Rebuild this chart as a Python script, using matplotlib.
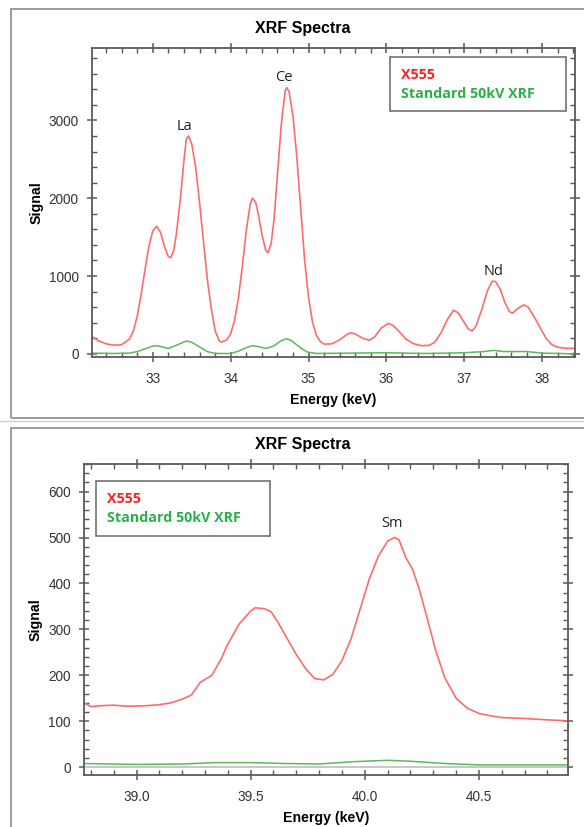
import matplotlib
matplotlib.use("Agg")
import matplotlib.pyplot as plt
from matplotlib.lines import Line2D
from matplotlib.patches import Rectangle
from matplotlib.ticker import MultipleLocator, FixedLocator, FormatStrFormatter

# upper panel: 32-38.5 keV
top_e = [32.22, 32.30, 32.40, 32.50, 32.60, 32.70, 32.75, 32.80, 32.85, 32.90, 32.95,
         33.00, 33.05, 33.10, 33.15, 33.20, 33.23, 33.27, 33.30, 33.35, 33.40, 33.43,
         33.46, 33.50, 33.55, 33.60, 33.65, 33.70, 33.75, 33.80, 33.85, 33.88, 33.95,
         34.00, 34.05, 34.10, 34.15, 34.20, 34.25, 34.28, 34.32, 34.36, 34.40, 34.45,
         34.48, 34.52, 34.56, 34.60, 34.65, 34.70, 34.72, 34.75, 34.80, 34.85, 34.90,
         34.95, 35.00, 35.05, 35.10, 35.15, 35.20, 35.30, 35.40, 35.50, 35.55, 35.60,
         35.70, 35.78, 35.85, 35.93, 36.02, 36.08, 36.15, 36.25, 36.35, 36.45, 36.55,
         36.62, 36.70, 36.78, 36.86, 36.92, 37.00, 37.05, 37.10, 37.15, 37.22, 37.30,
         37.36, 37.40, 37.46, 37.52, 37.58, 37.62, 37.68, 37.76, 37.82, 37.90, 37.98,
         38.05, 38.12, 38.20, 38.30, 38.42]
top_x555 = [220, 170, 130, 112, 118, 190, 290, 480, 760, 1080, 1380,
            1580, 1640, 1560, 1380, 1250, 1235, 1330, 1520, 1950, 2480, 2760,
            2800, 2700, 2400, 1950, 1450, 960, 590, 300, 175, 150, 180,
            260, 430, 720, 1130, 1580, 1920, 2000, 1950, 1770, 1540, 1330,
            1300, 1420, 1760, 2300, 2950, 3380, 3420, 3370, 3050, 2520, 1850,
            1200, 720, 410, 240, 160, 125, 130, 180, 255, 270, 255,
            200, 175, 220, 330, 390, 370, 300, 190, 130, 105, 110,
            150, 270, 440, 560, 530, 400, 320, 295, 360, 560, 820,
            935, 930, 830, 660, 540, 525, 580, 630, 600, 470, 320,
            200, 120, 85, 72, 70]

top_std_e = [32.22, 32.50, 32.70, 32.80, 32.90, 33.00, 33.05, 33.12, 33.20, 33.30,
             33.43, 33.50, 33.60, 33.70, 33.80, 34.00, 34.10, 34.20, 34.28, 34.35,
             34.45, 34.55, 34.65, 34.72, 34.78, 34.88, 34.98, 35.10, 36.00, 36.50,
             37.00, 37.25, 37.38, 37.50, 37.80, 38.00, 38.42]
top_std = [10, 5, 10, 30, 65, 100, 105, 90, 70, 110,
           165, 150, 90, 30, 5, 5, 35, 80, 105, 95,
           70, 100, 170, 195, 170, 90, 25, 5, 15, 5,
           15, 30, 45, 30, 30, 10, 0]

# lower panel: 38.8-40.9 keV
bot_e = [38.77, 38.80, 38.85, 38.90, 38.95, 39.00, 39.05, 39.10, 39.15, 39.20,
         39.24, 39.28, 39.33, 39.37, 39.40, 39.45, 39.50, 39.52, 39.56, 39.59, 39.62,
         39.66, 39.70, 39.74, 39.78, 39.82, 39.86, 39.90, 39.94, 39.98, 40.02,
         40.06, 40.10, 40.13, 40.15, 40.18, 40.21, 40.24, 40.27, 40.31, 40.35,
         40.40, 40.45, 40.50, 40.55, 40.60, 40.70, 40.80, 40.89]
bot_x555 = [140, 132, 134, 135, 133, 133, 134, 136, 140, 148,
            157, 185, 200, 235, 268, 312, 340, 347, 345, 338, 315,
            280, 245, 215, 193, 190, 202, 232, 280, 345, 410,
            460, 492, 500, 495, 456, 430, 385, 330, 255, 195,
            150, 128, 117, 112, 108, 106, 103, 101]

bot_std_e = [38.77, 39.00, 39.20, 39.35, 39.50, 39.65, 39.80, 39.95, 40.10, 40.20,
             40.35, 40.50, 40.89]
bot_std = [8, 6, 7, 10, 10, 8, 7, 12, 15, 13, 8, 5, 5]

peaks_top = [("La", 33.41, 2920), ("Ce", 34.68, 3550), ("Nd", 37.37, 1060)]
peaks_bot = [("Sm", 40.12, 530)]

red = "#ff6b6b"
green = "#5cb85c"
spine_c = "#5a5a5a"

fig = plt.figure(figsize=(5.84, 8.27), dpi=100)

# panel frames
fig.patches.append(Rectangle((11 / 584, 1 - 418 / 827), 1.0, 409 / 827,
                             transform=fig.transFigure, fill=False,
                             edgecolor="#8a8a8a", linewidth=1.2))
fig.patches.append(Rectangle((11 / 584, -0.05), 1.0, 0.05 + 399 / 827,
                             transform=fig.transFigure, fill=False,
                             edgecolor="#8a8a8a", linewidth=1.2))
fig.add_artist(Line2D([0, 1], [1 - 421 / 827] * 2, transform=fig.transFigure,
                      color="#d0d0d0", linewidth=1))


def style_axes(ax, xmaj, xmin, ymaj, ymin):
    for s in ax.spines.values():
        s.set_color(spine_c)
        s.set_linewidth(1.3)
    ax.xaxis.set_major_locator(FixedLocator(xmaj))
    ax.xaxis.set_minor_locator(MultipleLocator(xmin))
    ax.yaxis.set_major_locator(FixedLocator(ymaj))
    ax.yaxis.set_minor_locator(MultipleLocator(ymin))
    ax.tick_params(which="major", direction="inout", length=7, width=1.1,
                   color=spine_c, labelsize=9.8, labelcolor="#333333",
                   top=True, right=True, pad=6)
    ax.tick_params(axis="x", which="major", pad=7.5)
    ax.tick_params(which="minor", direction="in", length=3.5, width=1,
                   color=spine_c, top=True, right=True)
    ax.set_xlabel("Energy (keV)", fontweight="bold", fontsize=10.2, labelpad=5)
    ax.set_ylabel("Signal", fontweight="bold", fontsize=10.2, labelpad=4)


def add_legend(ax, anchor):
    handles = [Line2D([], [], color=red, linewidth=0),
               Line2D([], [], color=green, linewidth=0)]
    leg = ax.legend(handles, ["X555", "Standard 50kV XRF"], loc="upper left",
                    bbox_to_anchor=anchor, mode="expand", handlelength=0,
                    handletextpad=0, fancybox=False, framealpha=1,
                    borderaxespad=0, edgecolor="#666666", borderpad=0.75,
                    labelspacing=0.35,
                    prop={"family": "Open Sans", "weight": "bold", "size": 10.3})
    leg.get_frame().set_linewidth(1.1)
    leg.get_texts()[0].set_color("#ff2020")
    leg.get_texts()[1].set_color("#2ab04a")


plt.rcParams["font.family"] = ["Liberation Sans", "DejaVu Sans"]

# top panel
ax1 = fig.add_axes([92 / 584, 1 - 357 / 827, 483 / 584, 309 / 827])
ax1.plot(top_std_e, top_std, color=green, linewidth=1.1)
ax1.plot(top_e, top_x555, color=red, linewidth=1.2)
ax1.set_xlim(32.22, 38.42)
ax1.set_ylim(-40, 3930)
style_axes(ax1, [33, 34, 35, 36, 37, 38], 0.2, [0, 1000, 2000, 3000], 200)
for name, x, y in peaks_top:
    ax1.text(x, y, name, ha="center", va="center", fontsize=10.5,
             family="Open Sans", color="#222222")
add_legend(ax1, (0.617, 0.971, 0.364, 0.0))
fig.text(303 / 584, 1 - 29 / 827, "XRF Spectra", ha="center", va="center",
         fontweight="bold", fontsize=11.5)

# bottom panel
ax2 = fig.add_axes([84 / 584, 1 - 775 / 827, 484 / 584, 311 / 827])
ax2.axhline(0, color="#c8c8c8", linewidth=1.5)
ax2.plot(bot_std_e, bot_std, color=green, linewidth=1.1)
ax2.plot(bot_e, bot_x555, color=red, linewidth=1.2)
ax2.set_xlim(38.77, 40.89)
ax2.set_ylim(-17, 660)
ax2.xaxis.set_major_formatter(FormatStrFormatter("%.1f"))
style_axes(ax2, [39.0, 39.5, 40.0, 40.5], 0.1, [0, 100, 200, 300, 400, 500, 600], 20)
for name, x, y in peaks_bot:
    ax2.text(x, y, name, ha="center", va="center", fontsize=10.5,
             family="Open Sans", color="#222222")
add_legend(ax2, (0.025, 0.945, 0.36, 0.0))
fig.text(303 / 584, 1 - 445 / 827, "XRF Spectra", ha="center", va="center",
         fontweight="bold", fontsize=11.5)

fig.savefig("out.png", dpi=100)
